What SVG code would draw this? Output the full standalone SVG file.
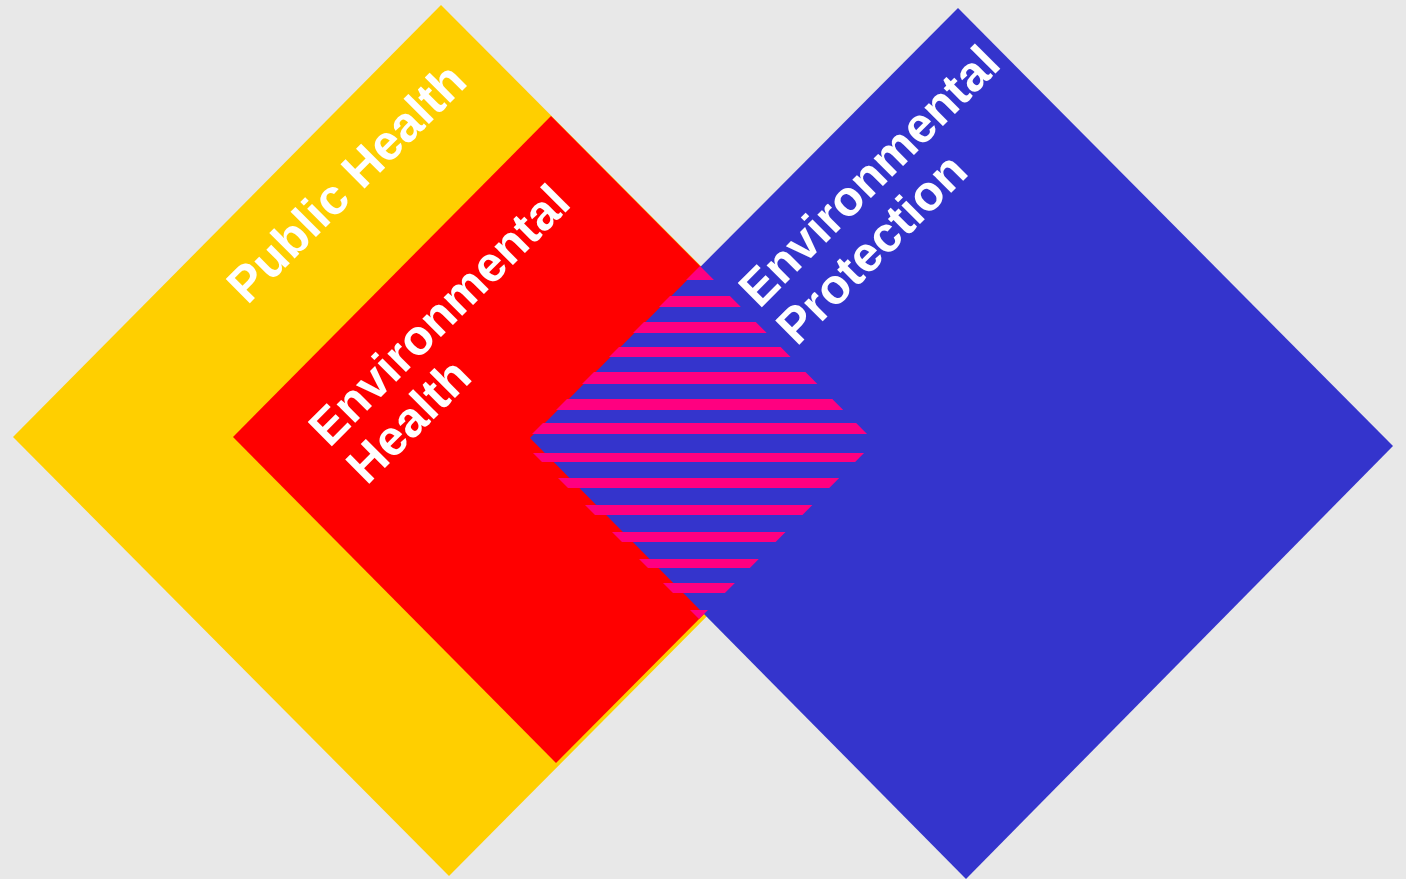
<svg xmlns="http://www.w3.org/2000/svg" width="1406" height="879" viewBox="0 0 1406 879">
  <style>
    .lbl { font-family: "Liberation Sans", Arial, sans-serif; font-weight: bold; font-size: 49.5px; fill: #FFFFFF; }
    .stripe { fill: #FF0080; }
  </style>
  <defs>
    <clipPath id="overlapClip">
      <polygon points="700,266 875,442 699,619 523,443"/>
    </clipPath>
  </defs>
  <rect x="0" y="0" width="1406" height="879" fill="#E8E8E8"/>

  <g id="public-health">
    <polygon points="441,5 878,444 449,876 13,437" fill="#FFCF00"/>
  </g>

  <g id="environmental-health">
    <polygon points="551,116 875,442 556,763 233,437" fill="#FF0000"/>
  </g>

  <g id="environmental-protection">
    <polygon points="958,8 1393,446 966,879 530,438" fill="#3434CC"/>
  </g>

  <g id="overlap-hatch" clip-path="url(#overlapClip)">
    <rect class="stripe" x="500" y="264" width="400" height="16"/>
    <rect class="stripe" x="500" y="296" width="400" height="11"/>
    <rect class="stripe" x="500" y="322" width="400" height="11"/>
    <rect class="stripe" x="500" y="347" width="400" height="10"/>
    <rect class="stripe" x="500" y="372" width="400" height="12"/>
    <rect class="stripe" x="500" y="399" width="400" height="11"/>
    <rect class="stripe" x="500" y="423" width="400" height="11"/>
    <rect class="stripe" x="500" y="453" width="400" height="9"/>
    <rect class="stripe" x="500" y="478" width="400" height="10"/>
    <rect class="stripe" x="500" y="505" width="400" height="10"/>
    <rect class="stripe" x="500" y="532" width="400" height="10"/>
    <rect class="stripe" x="500" y="559" width="400" height="9"/>
    <rect class="stripe" x="500" y="583" width="400" height="10"/>
    <rect class="stripe" x="500" y="610" width="400" height="10"/>
  </g>

  <g id="labels">
    <text class="lbl" transform="translate(247.5,305.5) rotate(-45)">Public Health</text>
    <text class="lbl" transform="translate(329.5,448.5) rotate(-45)"><tspan x="0" y="0">Environmental</tspan><tspan x="0" y="53">Health</tspan></text>
    <text class="lbl" transform="translate(759.5,309.5) rotate(-45)"><tspan x="0" y="0">Environmental</tspan><tspan x="0" y="53">Protection</tspan></text>
  </g>

  <g id="connectors"/>
</svg>
